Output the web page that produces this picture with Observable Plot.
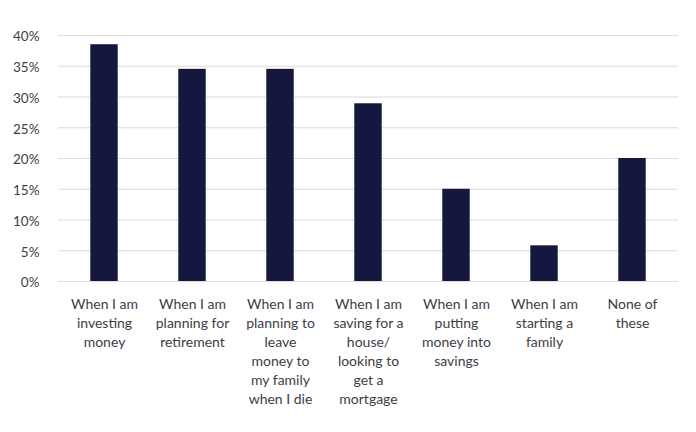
<!DOCTYPE html>
<html>
<head>
<meta charset="utf-8">
<script src="https://cdn.jsdelivr.net/npm/d3@7"></script>
<script src="https://cdn.jsdelivr.net/npm/@observablehq/plot@0.6"></script>
<style>
  html, body { margin: 0; padding: 0; background: #ffffff; }
  #chart { width: 696px; height: 432px; }
</style>
</head>
<body>
<div id="chart"></div>
<script>
const categories = [
  "When I am\ninvesting\nmoney",
  "When I am\nplanning for\nretirement",
  "When I am\nplanning to\nleave\nmoney to\nmy family\nwhen I die",
  "When I am\nsaving for a\nhouse/\nlooking to\nget a\nmortgage",
  "When I am\nputting\nmoney into\nsavings",
  "When I am\nstarting a\nfamily",
  "None of\nthese"
];
const values = [38.5, 34.5, 34.5, 28.9, 15, 5.8, 20];
const yTicks = [0, 5, 10, 15, 20, 25, 30, 35, 40];

const data = categories.map((c, i) => ({category: c, value: values[i]}));

const chart = Plot.plot({
  width: 696,
  height: 432,
  marginLeft: 58,
  marginRight: 18,
  marginTop: 35,
  marginBottom: 151,
  style: {fontFamily: "Lato, 'Noto Sans', sans-serif", fontSize: "14px", color: "#3d3d45", background: "#ffffff"},
  x: {domain: categories, padding: 0, label: null},
  y: {domain: [0, 40], ticks: yTicks, label: null},
  marks: [
    Plot.gridY(yTicks, {stroke: "#dcdcdc", strokeOpacity: 1, strokeWidth: 1.2}),
    Plot.barY(data, {x: "category", y: "value", fill: "#15173f", insetLeft: 30.3, insetRight: 30.3}),
    Plot.axisY(yTicks, {tickSize: 0, tickPadding: 19, dy: 1.5, tickFormat: d => d + "%", fontSize: 13.5, fill: "#3d3d45"}),
    Plot.axisX({tickSize: 0, tickPadding: 14, lineAnchor: "top", lineHeight: 1.36, fontSize: 14, fill: "#3d3d45"})
  ]
});
document.getElementById("chart").appendChild(chart);
</script>
</body>
</html>
